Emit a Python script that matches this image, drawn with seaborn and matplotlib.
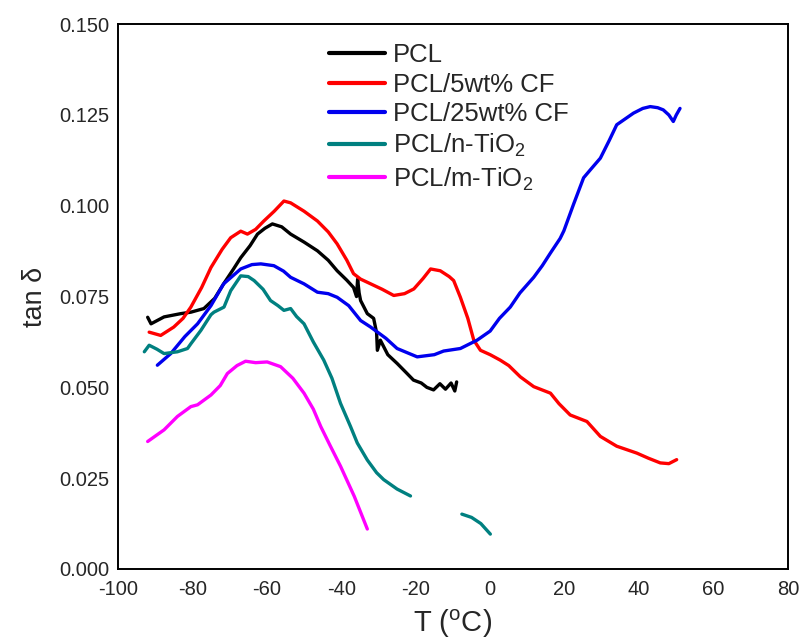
import numpy as np
import pandas as pd
import matplotlib
matplotlib.use("Agg")
import matplotlib.pyplot as plt
import seaborn as sns

# values
pcl_T = [-92.0, -91.1, -87.6, -83.1, -80.4, -76.9, -74.0, -71.6, -69.0, -67.0, -64.5, -62.5, -60.5,
         -58.5, -56.0, -53.6, -50.0, -46.4, -43.5, -41.1, -38.5, -36.7, -35.9, -35.6, -35.2, -34.8,
         -33.0, -31.3, -30.5, -30.3, -29.5, -27.5, -25.0, -22.5, -20.6, -18.5, -17.0, -15.2, -13.5,
         -12.0, -10.5, -9.5, -9.0]
pcl_y = [0.0693, 0.0675, 0.0694, 0.0703, 0.0707, 0.0717, 0.0745, 0.0785, 0.0825, 0.0857, 0.0890,
         0.0922, 0.0938, 0.0950, 0.0942, 0.0922, 0.0900, 0.0876, 0.0850, 0.0821, 0.0795, 0.0775,
         0.0750, 0.0798, 0.0760, 0.0739, 0.0703, 0.0690, 0.0650, 0.0602, 0.0630, 0.0590, 0.0566,
         0.0540, 0.0520, 0.0512, 0.0500, 0.0493, 0.0510, 0.0495, 0.0512, 0.0490, 0.0515]

cf5_T = [-91.6, -88.5, -85.0, -82.5, -80.4, -77.5, -75.0, -72.0, -69.7, -67.0, -65.2, -63.0, -60.8,
         -58.0, -55.4, -53.6, -50.0, -46.4, -43.5, -41.1, -38.5, -36.7, -34.8, -32.1, -29.0, -25.9,
         -23.0, -20.5, -18.0, -16.0, -13.4, -11.0, -9.8, -8.0, -6.0, -4.4, -2.6, 0.0, 2.7, 5.0, 8.1,
         11.7, 16.2, 18.5, 21.5, 26.0, 29.6, 34.0, 39.4, 42.5, 45.7, 48.0, 50.1]
cf5_y = [0.0652, 0.0643, 0.0666, 0.0690, 0.0721, 0.0775, 0.0830, 0.0880, 0.0912, 0.0930, 0.0922,
         0.0935, 0.0958, 0.0985, 0.1013, 0.1008, 0.0985, 0.0958, 0.0928, 0.0895, 0.0850, 0.0813,
         0.0798, 0.0785, 0.0770, 0.0753, 0.0758, 0.0771, 0.0800, 0.0826, 0.0821, 0.0805, 0.0794,
         0.0748, 0.0690, 0.0630, 0.0602, 0.0590, 0.0575, 0.0560, 0.0529, 0.0502, 0.0484, 0.0455,
         0.0424, 0.0406, 0.0365, 0.0338, 0.0319, 0.0305, 0.0292, 0.0290, 0.0301]

cf25_T = [-89.4, -85.8, -82.0, -78.6, -75.0, -71.6, -67.0, -64.0, -61.6, -58.1, -55.5, -53.6, -50.0,
          -46.4, -43.5, -41.1, -38.0, -34.8, -32.1, -28.0, -25.0, -19.6, -15.0, -12.5, -8.0, -3.5,
          0.0, 2.5, 5.4, 8.0, 11.7, 14.0, 16.2, 18.8, 19.8, 22.4, 25.1, 27.0, 29.6, 32.0, 34.0, 38.5,
          41.0, 43.0, 45.0, 46.5, 48.0, 49.2, 50.0, 51.0]
cf25_y = [0.0561, 0.0593, 0.0640, 0.0675, 0.0725, 0.0785, 0.0826, 0.0838, 0.0840, 0.0835, 0.0820,
          0.0803, 0.0785, 0.0762, 0.0758, 0.0748, 0.0725, 0.0684, 0.0666, 0.0635, 0.0607, 0.0584,
          0.0590, 0.0600, 0.0607, 0.0630, 0.0655, 0.0690, 0.0721, 0.0760, 0.0803, 0.0835, 0.0870,
          0.0910, 0.0931, 0.1004, 0.1077, 0.1100, 0.1131, 0.1180, 0.1223, 0.1255, 0.1268, 0.1273,
          0.1270, 0.1264, 0.1250, 0.1232, 0.1250, 0.1268]

# n-TiO2 curve has a gap, kept as two pieces
ntio2_T = [-92.9, -91.6, -89.5, -87.6, -84.0, -81.3, -80.4, -77.7, -75.0, -74.2, -71.5, -69.7, -67.0,
           -65.0, -63.4, -61.0, -59.0, -57.0, -55.4, -53.6, -52.0, -50.0, -47.5, -44.7, -42.5,
           -40.2, -37.5, -35.7, -33.0, -30.5, -28.6, -25.0, -21.4]
ntio2_y = [0.0598, 0.0616, 0.0605, 0.0593, 0.0598, 0.0607, 0.0620, 0.0657, 0.0700, 0.0707, 0.0721,
           0.0766, 0.0807, 0.0805, 0.0794, 0.0770, 0.0739, 0.0725, 0.0712, 0.0717, 0.0695, 0.0675,
           0.0625, 0.0575, 0.0525, 0.0456, 0.0392, 0.0347, 0.0300, 0.0265, 0.0246, 0.0220, 0.0201]
ntio2_T2 = [-7.6, -5.0, -2.5, 0.05]
ntio2_y2 = [0.0151, 0.0142, 0.0125, 0.0096]

mtio2_T = [-92.0, -87.6, -84.0, -80.4, -78.6, -75.0, -72.5, -70.6, -68.0, -65.7, -63.0, -59.9, -56.3,
           -53.0, -50.0, -47.5, -45.5, -43.0, -40.2, -36.5, -33.0]
mtio2_y = [0.0351, 0.0383, 0.0420, 0.0447, 0.0452, 0.0479, 0.0505, 0.0538, 0.0560, 0.0572, 0.0568,
           0.0570, 0.0557, 0.0525, 0.0484, 0.0440, 0.0392, 0.0340, 0.0283, 0.0200, 0.0110]

labels = ["PCL", "PCL/5wt% CF", "PCL/25wt% CF",
          r"PCL/n-TiO$_\mathregular{2}$", r"PCL/m-TiO$_\mathregular{2}$"]
colors = ["#000000", "#ff0000", "#0000ee", "#008080", "#ff00ff"]

sns.set_style("white")
plt.rcParams["font.family"] = ["Liberation Sans", "DejaVu Sans"]
plt.rcParams["mathtext.fontset"] = "custom"
plt.rcParams["mathtext.rm"] = "Liberation Sans"
plt.rcParams["axes.unicode_minus"] = False

fig = plt.figure(figsize=(8.02, 6.44), dpi=100)
ax = fig.add_axes([0.147, 0.1165, 0.8355, 0.846])

series = [(pcl_T, pcl_y), (cf5_T, cf5_y), (cf25_T, cf25_y), (ntio2_T, ntio2_y), (mtio2_T, mtio2_y)]
for (t, y), lab, c in zip(series, labels, colors):
    df = pd.DataFrame({"T": t, "tan": y})
    sns.lineplot(data=df, x="T", y="tan", sort=False, color=c, lw=2.4, label=lab, ax=ax)
sns.lineplot(x=ntio2_T2, y=ntio2_y2, sort=False, color=colors[3], lw=2.4, ax=ax)

ax.set_xlim(-100, 80)
ax.set_ylim(0, 0.150)
ax.set_xticks(np.arange(-100, 81, 20))
ax.set_yticks(np.arange(0, 0.151, 0.025))
ax.yaxis.set_major_formatter(matplotlib.ticker.FormatStrFormatter("%.3f"))
ax.tick_params(length=0, labelsize=14.5)
ax.tick_params(axis="x", pad=8)
ax.tick_params(axis="y", pad=6)
for s in ax.spines.values():
    s.set_color("black")
    s.set_linewidth(1.4)

ax.set_xlabel(r"T ($^\mathregular{o}$C)", fontsize=21, labelpad=6)
ax.set_ylabel(r"tan δ", fontsize=19.5, labelpad=8)

leg = ax.legend(loc="upper left", bbox_to_anchor=(0.28, 1.008), frameon=False,
                fontsize=18.5, handlelength=2.2, handletextpad=0.3, labelspacing=0.22)
for h in leg.get_lines():
    h.set_linewidth(3)

fig.savefig("out.png", dpi=100)
